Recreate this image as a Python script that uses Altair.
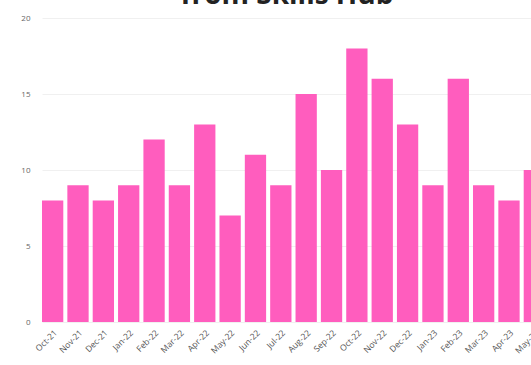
import altair as alt
import pandas as pd

months = ["Oct-21", "Nov-21", "Dec-21", "Jan-22", "Feb-22", "Mar-22", "Apr-22",
          "May-22", "Jun-22", "Jul-22", "Aug-22", "Sep-22", "Oct-22", "Nov-22",
          "Dec-22", "Jan-23", "Feb-23", "Mar-23", "Apr-23", "May-23"]
counts = [8, 9, 8, 9, 12, 9, 13, 7, 11, 9, 15, 10, 18, 16, 13, 9, 16, 9, 8, 10]
heading = "from Skills Hub"

df = pd.DataFrame({"month": months, "count": counts})

bars = (
    alt.Chart(df)
    .mark_bar(color="#FF5DBE", clip=True)
    .encode(
        x=alt.X("month:N", sort=months, title=None,
                scale=alt.Scale(paddingInner=0.16, paddingOuter=0.0, range=[0, 503]),
                axis=alt.Axis(labelAngle=-45, labelFontSize=8.5, labelColor="#555",
                              domain=False, ticks=False, labelPadding=6,
                              labelFont="Open Sans")),
        y=alt.Y("count:Q", title=None, scale=alt.Scale(domain=[0, 20]),
                axis=alt.Axis(values=[0, 5, 10, 15, 20], labelFontSize=8,
                              labelColor="#666", domain=False, ticks=False,
                              gridColor="#f0f0f0", labelPadding=12,
                              labelFont="Open Sans")),
    )
)

# Heading drawn as a text layer sitting above the plot area
title = (
    alt.Chart(pd.DataFrame({"t": [heading]}))
    .mark_text(fontSize=28, fontWeight="bold", font="Open Sans", color="#222",
               align="center", baseline="alphabetic")
    .encode(text="t:N", x=alt.value(245), y=alt.value(-14))
)

chart = (
    alt.layer(bars, title)
    .properties(
        width=489,
        height=304,
        padding={"left": 42, "top": 18, "right": 0, "bottom": 43},
        autosize=alt.AutoSizeParams(type="none"),
    )
    .configure_view(stroke=None)
)

chart.save("out.html", embed_options={"renderer": "svg", "actions": False})
